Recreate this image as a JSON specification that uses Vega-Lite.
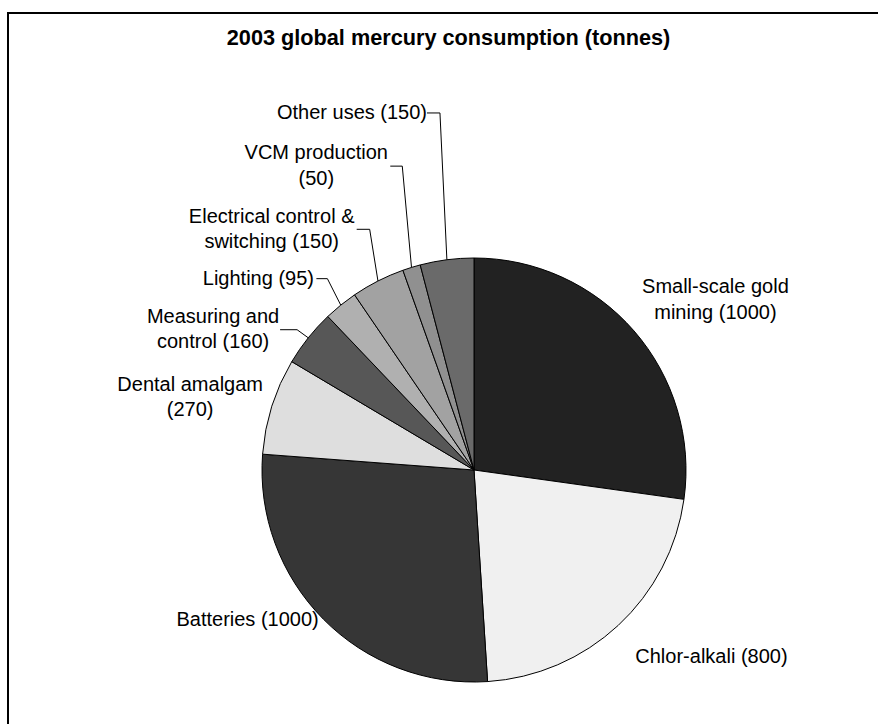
{
  "$schema": "https://vega.github.io/schema/vega-lite/v6.json",
  "width": 871,
  "height": 712,
  "autosize": {"type": "none"},
  "padding": {"left": 7, "top": 12, "right": 0, "bottom": 0},
  "background": "white",
  "config": {"view": {"stroke": null}, "font": "Liberation Sans"},
  "title": {
    "text": "2003 global mercury consumption (tonnes)",
    "font": "Liberation Sans",
    "fontSize": 21.7,
    "fontWeight": "bold",
    "color": "black",
    "anchor": "middle",
    "frame": "group",
    "orient": "top",
    "offset": 0,
    "baseline": "alphabetic",
    "dx": 6,
    "dy": 56
  },
  "params": [
    {"name": "cx", "value": 467},
    {"name": "cy", "value": 458},
    {"name": "R", "value": 212},
    {"name": "lineH", "value": 25.5},
    {"name": "labelLayout", "value": [
      [259, 46, 0, 0, 0],
      [255, 64, 0, 0, 0],
      [213, -75, 0, 0, 0],
      [241, -54, 0, 0, 0],
      [225, -85, 1, -18, 17],
      [246, -61, 1, -3, 11],
      [270, -80, 1, 5, 13],
      [318, -64, 1, 10, 12],
      [360, -76, 1, -1, 13]
    ]}
  ],
  "layer": [
    {
      "data": {"values": [{}]},
      "mark": {"type": "rule", "stroke": "black", "strokeWidth": 2},
      "encoding": {"x": {"value": 1}}
    },
    {
      "data": {"values": [{}]},
      "mark": {"type": "rule", "stroke": "black", "strokeWidth": 2},
      "encoding": {"y": {"value": 1}}
    },
    {
      "data": {
        "values": [
          {"category": "Small-scale gold\nmining", "tonnes": 1000},
          {"category": "Chlor-alkali", "tonnes": 800},
          {"category": "Batteries", "tonnes": 1000},
          {"category": "Dental amalgam", "tonnes": 270},
          {"category": "Measuring and\ncontrol", "tonnes": 160},
          {"category": "Lighting", "tonnes": 95},
          {"category": "Electrical control &\nswitching", "tonnes": 150},
          {"category": "VCM production", "tonnes": 50},
          {"category": "Other uses", "tonnes": 150}
        ]
      },
      "transform": [
        {"window": [{"op": "row_number", "as": "idx"}]},
        {"stack": "tonnes", "groupby": [], "sort": [{"field": "idx"}], "as": ["v0", "v1"]},
        {"joinaggregate": [{"op": "sum", "field": "tonnes", "as": "total"}]},
        {"calculate": "PI * (datum.v0 + datum.v1) / datum.total", "as": "mid"},
        {"calculate": "labelLayout[datum.idx - 1]", "as": "lay"},
        {"calculate": "cx + datum.lay[0] * sin(datum.mid)", "as": "rayX"},
        {"calculate": "cy - datum.lay[0] * cos(datum.mid)", "as": "labelY"},
        {"calculate": "datum.rayX + datum.lay[1]", "as": "labelX"},
        {"calculate": "datum.rayX + datum.lay[3]", "as": "leadX"},
        {"calculate": "datum.leadX + datum.lay[4]", "as": "elbowX"},
        {"calculate": "cx + R * sin(datum.mid)", "as": "edgeX"},
        {"calculate": "cy - R * cos(datum.mid)", "as": "edgeY"},
        {"calculate": "datum.category + (indexof(datum.category, '\\n') < 0 && length(datum.category) > 12 ? '\\n' : ' ') + '(' + datum.tonnes + ')'", "as": "label"},
        {"calculate": "datum.labelY - (length(split(datum.label, '\\n')) - 1) * lineH / 2", "as": "firstLineY"}
      ],
      "layer": [
        {
          "mark": {"type": "arc", "x": {"expr": "cx"}, "y": {"expr": "cy"}, "outerRadius": {"expr": "R"}, "stroke": "black", "strokeWidth": 1},
          "encoding": {
            "theta": {"field": "tonnes", "type": "quantitative", "stack": true},
            "order": {"field": "idx", "type": "quantitative"},
            "fill": {
              "field": "category",
              "type": "nominal",
              "sort": null,
              "legend": null,
              "scale": {"range": ["#222222", "#f0f0f0", "#363636", "#dedede", "#575757", "#b0b0b0", "#a2a2a2", "#909090", "#6a6a6a"]}
            }
          }
        },
        {
          "transform": [{"filter": "datum.lay[2] == 1"}],
          "mark": {"type": "rule", "stroke": "black", "strokeWidth": 1},
          "encoding": {
            "x": {"field": "leadX", "type": "quantitative", "scale": null},
            "x2": {"field": "elbowX"},
            "y": {"field": "labelY", "type": "quantitative", "scale": null},
            "y2": {"field": "labelY"}
          }
        },
        {
          "transform": [{"filter": "datum.lay[2] == 1"}],
          "mark": {"type": "rule", "stroke": "black", "strokeWidth": 1},
          "encoding": {
            "x": {"field": "elbowX", "type": "quantitative", "scale": null},
            "x2": {"field": "edgeX"},
            "y": {"field": "labelY", "type": "quantitative", "scale": null},
            "y2": {"field": "edgeY"}
          }
        },
        {
          "mark": {"type": "text", "align": "center", "baseline": "middle", "font": "Liberation Sans", "fontSize": 20, "lineHeight": 25.5, "lineBreak": "\n", "fill": "black"},
          "encoding": {
            "x": {"field": "labelX", "type": "quantitative", "scale": null},
            "y": {"field": "firstLineY", "type": "quantitative", "scale": null},
            "text": {"field": "label", "type": "nominal"}
          }
        }
      ]
    }
  ]
}
